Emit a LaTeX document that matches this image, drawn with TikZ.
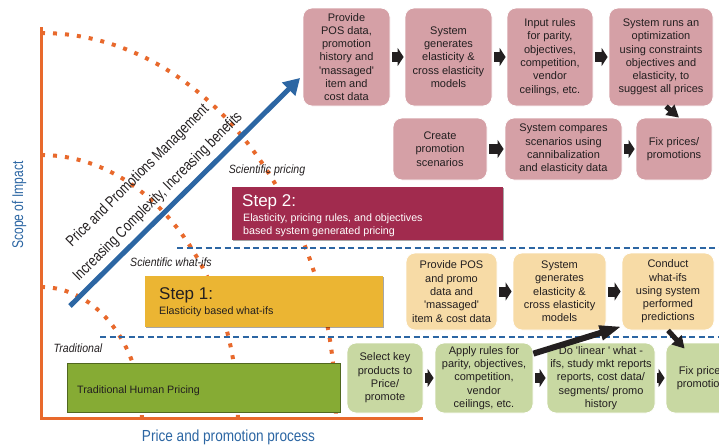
\documentclass[tikz,border=0pt]{standalone}
\usepackage{fontspec}
\setmainfont{Liberation Sans}
\newfontfamily\narrowA[FakeStretch=0.78]{Liberation Sans}
\newfontfamily\narrowB[FakeStretch=0.85]{Liberation Sans}
\newfontfamily\narrowC[FakeStretch=0.88]{Liberation Sans}
\newfontfamily\narrowD[FakeStretch=0.80]{Liberation Sans}
\usetikzlibrary{arrows.meta,calc,shadows}

\definecolor{axisorange}{HTML}{E8692C}
\definecolor{impactblue}{HTML}{2C66A3}
\definecolor{pinkfill}{HTML}{D5A0A6}
\definecolor{creamfill}{HTML}{F7DBA6}
\definecolor{sagefill}{HTML}{C8D8A2}
\definecolor{crimson}{HTML}{A12B4E}
\definecolor{goldfill}{HTML}{EBB533}
\definecolor{olivefill}{HTML}{86AB34}
\definecolor{inkgrey}{HTML}{231F20}

\begin{document}
\begin{tikzpicture}[x=1pt,y=-1pt,
  flowbox/.style={rounded corners=9pt, inner sep=0pt, align=center,
    font=\fontsize{11}{13.3}\selectfont, text=inkgrey, draw=white, line width=0.8pt},
  pinkbox/.style={flowbox, fill=pinkfill},
  creambox/.style={flowbox, fill=creamfill},
  sagebox/.style={flowbox, fill=sagefill},
  stepbox/.style={inner sep=0pt, drop shadow={shadow xshift=1.2pt, shadow yshift=-1.2pt, fill=black, opacity=0.35}},
  steptitle/.style={anchor=base west, inner sep=0pt, font=\fontsize{17}{20}\selectfont},
  stepline/.style={anchor=base west, inner sep=0pt, font=\fontsize{10.7}{13}\selectfont},
  stagelabel/.style={inner sep=0pt, font=\narrowC\itshape\fontsize{12}{14}\selectfont, text=inkgrey},
  arcdot/.style={draw=axisorange, line width=4pt, dash pattern=on 4pt off 8pt},
  divider/.style={draw=impactblue, line width=1.2pt, dash pattern=on 6pt off 3.5pt},
  blockarrow/.style={draw=inkgrey, line width=10pt, line cap=butt,
    -{Triangle[length=6pt,width=18pt]}, shorten <=2pt, shorten >=1pt},
  slimarrow/.style={draw=inkgrey, line width=5pt, line cap=butt,
    -{Triangle[length=12pt,width=13pt]}}
]
\useasboundingbox (0,0) rectangle (719,447);
\clip (0,0) rectangle (719,447);

% quarter-elliptic stage boundaries around the origin of the axes
\draw[arcdot] (41,33)  arc[start angle=-90, end angle=0, x radius=295, y radius=385];
\draw[arcdot] (41,155) arc[start angle=-90, end angle=0, x radius=197, y radius=263];
\draw[arcdot] (41,287) arc[start angle=-90, end angle=0, x radius=101, y radius=131];

% axes
\coordinate (ytop) at (41,27);
\coordinate (origin) at (41,418);
\coordinate (xend) at (423,418);
\draw[axisorange, line width=3pt] (ytop) -- (origin) -- (xend);

% dashed level separators
\coordinate (d1a) at (177,248);  \coordinate (d1b) at (719,248);
\coordinate (d2a) at (100,337);  \coordinate (d2b) at (719,337);
\draw[divider] (d1a) -- (d1b);
\draw[divider] (d2a) -- (d2b);

% axis titles
\node[rotate=90, inner sep=0pt, text=impactblue, font=\narrowA\fontsize{15.5}{18}\selectfont] (yl) at (19,205) {Scope of Impact};
\node[inner sep=0pt, text=impactblue, font=\narrowB\fontsize{16}{19}\selectfont] (xl) at (228.5,437) {Price and promotion process};

% growth arrow and its labels
\coordinate (ga) at (70,306);
\coordinate (gb) at (300,78);
\draw[impactblue, line width=5pt, -{Triangle[length=16pt,width=18pt]}] (ga) -- (gb);
\node[rotate=45, inner sep=0pt, text=inkgrey, font=\narrowD\fontsize{15.5}{18}\selectfont] (lbl1) at (138,176) {Price and Promotions Management};
\node[rotate=45, inner sep=0pt, text=inkgrey, font=\narrowD\fontsize{15.5}{18}\selectfont] (lbl2) at (158,197) {Increasing Complexity, Increasing benefits};

% stage labels
\node[stagelabel] (st3) at (267,170) {Scientific pricing};
\node[stagelabel] (st2) at (171,262) {Scientific what-ifs};
\node[stagelabel] (st1) at (78,348) {Traditional};

% step boxes
\node[stepbox, fill=crimson, minimum width=271pt, minimum height=53pt] (s2) at (367.5,213.5) {};
\node[steptitle, text=white] (s2t) at (242,206) {Step 2:};
\node[stepline, text=white] (s2a) at (243,221) {Elasticity, pricing rules, and objectives};
\node[stepline, text=white] (s2b) at (243,234) {based system generated pricing};

\node[stepbox, fill=goldfill, minimum width=238pt, minimum height=51pt] (s1) at (264,301.5) {};
\node[steptitle, text=inkgrey] (s1t) at (159,299) {Step 1:};
\node[stepline, text=inkgrey] (s1a) at (159,314) {Elasticity based what-ifs};

\node[stepbox, fill=olivefill, draw=olivefill!60!black, line width=0.6pt, minimum width=273pt, minimum height=49pt] (s0) at (203.5,387.5) {};
\node[stepline, text=inkgrey] (s0a) at (77,393) {Traditional Human Pricing};

% scientific pricing flow
\node[pinkbox, minimum width=87pt, minimum height=98pt] (p1) at (346.5,57) {Provide\\POS data,\\promotion\\history and\\\textquotesingle massaged\textquotesingle\\item and\\cost data};
\node[pinkbox, minimum width=87pt, minimum height=98pt] (p2) at (448.5,57) {System\\generates\\elasticity \&\\cross elasticity\\models};
\node[pinkbox, minimum width=86pt, minimum height=98pt] (p3) at (550,57) {Input rules\\for parity,\\objectives,\\competition,\\vendor\\ceilings, etc.};
\node[pinkbox, minimum width=104pt, minimum height=98pt] (p4) at (661,57) {System runs an\\optimization\\using constraints\\objectives and\\elasticity, to\\suggest all prices};
\node[pinkbox, minimum width=94pt, minimum height=62pt] (q1) at (440,149) {Create\\promotion\\scenarios};
\node[pinkbox, minimum width=117pt, minimum height=62pt] (q2) at (563.5,149) {System compares\\scenarios using\\cannibalization\\and elasticity data};
\node[pinkbox, minimum width=76pt, minimum height=62pt] (q3) at (674,149) {Fix prices/\\promotions};

\draw[blockarrow] (p1.east) -- (p2.west);
\draw[blockarrow] (p2.east) -- (p3.west);
\draw[blockarrow] (p3.east) -- (p4.west);
\draw[blockarrow] (q1.east) -- (q2.west);
\draw[blockarrow] (q2.east) -- (q3.west);
\draw[slimarrow] ($(p4.south)+(5,0)$) -- ($(q3.north)+(5,0)$);

% scientific what-if flow
\node[creambox, minimum width=91pt, minimum height=77pt] (y1) at (451.5,291.5) {Provide POS\\and promo\\data and\\\textquotesingle massaged\textquotesingle\\item \& cost data};
\node[creambox, minimum width=93pt, minimum height=77pt] (y2) at (559.5,291.5) {System\\generates\\elasticity \&\\cross elasticity\\models};
\node[creambox, minimum width=92pt, minimum height=77pt] (y3) at (668,291.5) {Conduct\\what-ifs\\using system\\performed\\predictions};

\draw[blockarrow] (y1.east) -- (y2.west);
\draw[blockarrow] (y2.east) -- (y3.west);

% traditional flow
\node[sagebox, minimum width=76pt, minimum height=70pt] (g1) at (385,378) {Select key\\products to\\Price/\\promote};
\node[sagebox, minimum width=98pt, minimum height=70pt] (g2) at (484,378) {Apply rules for\\parity, objectives,\\competition,\\vendor\\ceilings, etc.};
\node[sagebox, minimum width=108pt, minimum height=70pt] (g3) at (601,378) {Do \textquotesingle linear \textquotesingle\ what -\\ifs, study mkt reports\\reports, cost data/\\segments/ promo\\history};
\node[sagebox, minimum width=76pt, minimum height=70pt] (g4) at (704,378) {Fix prices/\\promotions};

\draw[blockarrow] (g1.east) -- (g2.west);
\draw[blockarrow] (g2.east) -- (g3.west);
\draw[blockarrow] (g3.east) -- (g4.west);
\draw[slimarrow, line width=6pt, -{Triangle[length=22pt,width=14pt]}] ($(g2.north east)+(0,11)$) -- ($(y3.south west)+(0,-4)$);
\draw[slimarrow] ($(y3.south)+(0,0)$) -- ($(g4.north west)+(19,6)$);

\end{tikzpicture}
\end{document}
